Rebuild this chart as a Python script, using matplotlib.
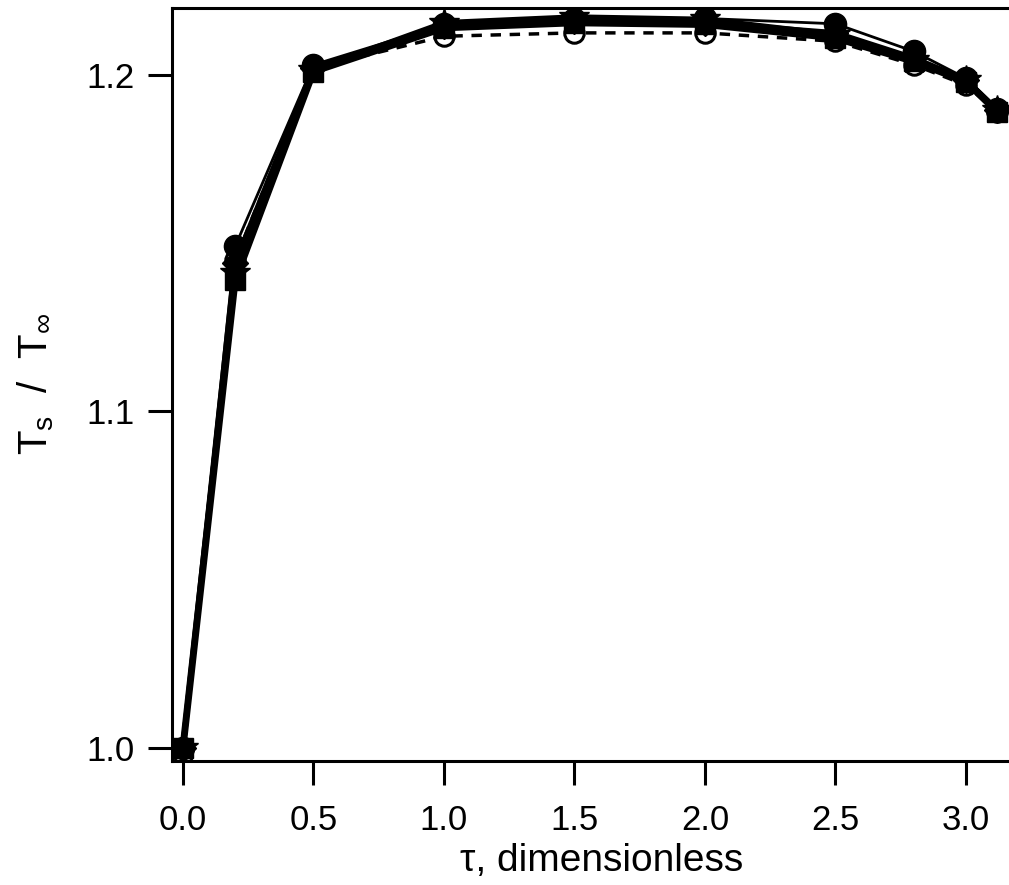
import matplotlib
matplotlib.use("Agg")
import matplotlib.pyplot as plt

# tau values (dimensionless time)
tau = [0.0, 0.2, 0.5, 1.0, 1.5, 2.0, 2.5, 2.8, 3.0, 3.12]

# surface temperature ratio Ts/Tinf, one list per curve
ts_circle = [1.0, 1.149, 1.203, 1.215, 1.2165, 1.2168, 1.2152, 1.2070, 1.1990, 1.1900]
ts_square = [1.0, 1.139, 1.2010, 1.2140, 1.2155, 1.2150, 1.2110, 1.2040, 1.1980, 1.1890]
ts_diamond = [1.0, 1.144, 1.2020, 1.2145, 1.2160, 1.2155, 1.2125, 1.2050, 1.1985, 1.1895]
ts_star = [1.0, 1.141, 1.2015, 1.2155, 1.2172, 1.2165, 1.2120, 1.2045, 1.1985, 1.1895]
ts_open = [1.0, 1.145, 1.2020, 1.2115, 1.2125, 1.2125, 1.2100, 1.2030, 1.1970, 1.1890]

xticks = [0.0, 0.5, 1.0, 1.5, 2.0, 2.5, 3.0]
yticks = [1.0, 1.1, 1.2]

plt.rcParams['font.family'] = ['Liberation Sans', 'DejaVu Sans']
plt.rcParams['mathtext.fontset'] = 'custom'
plt.rcParams['mathtext.rm'] = 'Liberation Sans'
plt.rcParams['mathtext.it'] = 'Liberation Sans'

fig = plt.figure(figsize=(10.09, 8.85), dpi=100)
# axes run past the right edge of the figure, as in the scanned original
ax = fig.add_axes([172 / 1009, 124 / 885, 860 / 1009, 753 / 885])

ax.plot(tau, ts_open, color='black', lw=2.5, ls=(0, (3, 2.5)),
        marker='o', ms=14, mfc='white', mew=2.2)
ax.plot(tau, ts_diamond, color='black', lw=4, marker='D', ms=13)
ax.plot(tau, ts_circle, color='black', lw=2, marker='o', ms=16)
ax.plot(tau, ts_star, color='black', lw=4, marker='*', ms=22)
ax.plot(tau, ts_square, color='black', lw=5, marker='s', ms=15)

ax.set_xlim(-0.042, (1032 - 183) / 261)
ax.set_ylim(0.996, 1.2199)
ax.set_xticks(xticks)
ax.set_yticks(yticks)
ax.set_xticklabels(['%.1f' % v for v in xticks])
ax.set_yticklabels(['%.1f' % v for v in yticks])

for s in ax.spines.values():
    s.set_linewidth(2.2)
ax.tick_params(direction='out', length=17, width=2.2, labelsize=25, pad=8)
ax.tick_params(axis='x', pad=14)
ax.tick_params(axis='y', pad=10)

ax.set_xlabel('τ, dimensionless', fontsize=28, labelpad=4)
ax.set_ylabel(r'T$_\mathregular{s}$  /  T$_\infty$', fontsize=29, labelpad=22)

fig.savefig('out.png', dpi=100)
